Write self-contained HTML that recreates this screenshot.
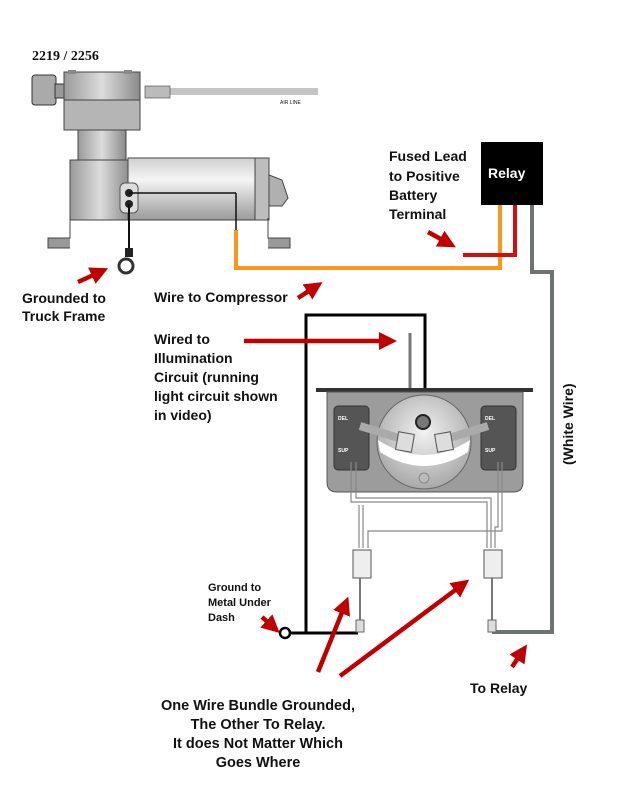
<!DOCTYPE html>
<html><head><meta charset="utf-8"><style>
body{margin:0;background:#fff;width:641px;height:800px;overflow:hidden}
svg{display:block}
text{font-family:"Liberation Sans",Arial,sans-serif;font-weight:bold;fill:#111}
</style></head><body>
<svg width="641" height="800" viewBox="0 0 641 800">
<defs>
<linearGradient id="cyl" x1="0" y1="0" x2="0" y2="1"><stop offset="0" stop-color="#d0d0d0"/><stop offset="0.35" stop-color="#f4f4f4"/><stop offset="1" stop-color="#9a9a9a"/></linearGradient>
<linearGradient id="gv" x1="0" y1="0" x2="1" y2="0"><stop offset="0" stop-color="#9a9a9a"/><stop offset="0.5" stop-color="#dcdcdc"/><stop offset="1" stop-color="#8a8a8a"/></linearGradient>
<radialGradient id="gg" cx="0.5" cy="0.4" r="0.6"><stop offset="0" stop-color="#f2f2f2"/><stop offset="1" stop-color="#a8a8a8"/></radialGradient>
<marker id="ar" markerWidth="4" markerHeight="4" refX="2" refY="2" orient="auto" markerUnits="strokeWidth"><path d="M0,0 L4,2 L0,4 z" fill="#c00000"/></marker>
</defs>

<text x="32" y="60" style="font-family:'Liberation Serif',serif;font-size:14px">2219 / 2256</text>
<rect x="170" y="88" width="148" height="7" fill="#c4c4c4"/>
<text x="280" y="104" style="font-size:5px;font-weight:normal">AIR LINE</text>
<rect x="145" y="86" width="25" height="12" fill="#bbb" stroke="#555" stroke-width="0.7"/>
<rect x="32" y="75" width="24" height="30" rx="3" fill="#aaa" stroke="#333"/>
<rect x="55" y="84" width="10" height="14" fill="#999" stroke="#333"/>
<rect x="64" y="72" width="76" height="28" fill="url(#gv)" stroke="#444"/>
<rect x="64" y="100" width="76" height="30" fill="#b5b5b5" stroke="#444"/>
<rect x="78" y="130" width="48" height="40" fill="url(#gv)" stroke="#444"/>
<rect x="68" y="70" width="8" height="4" fill="#888"/><rect x="124" y="70" width="8" height="4" fill="#888"/>
<rect x="70" y="160" width="60" height="60" fill="url(#gv)" stroke="#444"/>
<rect x="128" y="158" width="140" height="62" fill="url(#cyl)" stroke="#444"/>
<rect x="255" y="158" width="14" height="62" fill="#bdbdbd" stroke="#444"/>
<path d="M269,175 L282,180 L288,198 L282,206 L269,206 z" fill="#b0b0b0" stroke="#444"/>
<path d="M70,220 L70,238 L48,238 L48,248 L70,248" fill="#999" stroke="#444"/>
<path d="M268,218 L268,238 L290,238 L290,248 L268,248" fill="#999" stroke="#444"/>
<rect x="120" y="183" width="18" height="30" rx="5" fill="#ddd" stroke="#555"/>
<circle cx="129" cy="193" r="4" fill="#222"/><circle cx="129" cy="204" r="4" fill="#222"/>
<line x1="129" y1="193" x2="236" y2="193" stroke="#111" stroke-width="1.5"/>
<line x1="236" y1="193" x2="236" y2="230" stroke="#111" stroke-width="1.5"/>
<line x1="129" y1="204" x2="129" y2="250" stroke="#111" stroke-width="2"/>
<rect x="125" y="248" width="8" height="9" fill="#222"/>
<circle cx="126" cy="266" r="7" fill="none" stroke="#333" stroke-width="3"/>
<polyline points="236,230 236,268 500,268 500,205" fill="none" stroke="#f5981e" stroke-width="4"/>
<polyline points="515,205 515,255 463,255" fill="none" stroke="#d01010" stroke-width="4"/>
<polyline points="532,205 532,272 552,272 552,632 492,632" fill="none" stroke="#6f7272" stroke-width="4"/>
<rect x="481" y="142" width="62" height="63" fill="#000"/>
<text x="488" y="178" style="font-size:14px;fill:#fff">Relay</text>

<polyline points="306,633 306,315 425,315 425,415" fill="none" stroke="#000" stroke-width="3"/>
<line x1="410" y1="333" x2="410" y2="418" stroke="#777" stroke-width="3"/>
<line x1="306" y1="633" x2="358" y2="633" stroke="#000" stroke-width="3"/>
<circle cx="285" cy="633" r="5" fill="#fff" stroke="#000" stroke-width="2.5"/>
<line x1="290" y1="633" x2="306" y2="633" stroke="#000" stroke-width="3"/>
<rect x="316" y="388" width="217" height="4" fill="#333"/>
<path d="M327,392 H523 V482 Q523,492 513,492 H337 Q327,492 327,482 z" fill="#9c9c9c" stroke="#555"/>
<rect x="334" y="406" width="35" height="64" rx="4" fill="#555" stroke="#333"/>
<rect x="481" y="406" width="35" height="64" rx="4" fill="#555" stroke="#333"/>
<text x="338" y="420" style="font-size:5px;fill:#fff">DEL</text><text x="338" y="452" style="font-size:5px;fill:#fff">SUP</text>
<text x="485" y="420" style="font-size:5px;fill:#fff">DEL</text><text x="485" y="452" style="font-size:5px;fill:#fff">SUP</text>
<circle cx="424" cy="442" r="47" fill="url(#gg)" stroke="#666"/>
<path d="M378,440 Q424,470 470,440 L468,452 Q424,480 380,452 z" fill="#fff"/>
<circle cx="423" cy="422" r="7" fill="#777" stroke="#222" stroke-width="2"/>
<line x1="360" y1="426" x2="405" y2="440" stroke="#aaa" stroke-width="8"/>
<line x1="488" y1="426" x2="443" y2="440" stroke="#aaa" stroke-width="8"/>
<rect x="397" y="433" width="16" height="18" fill="#ddd" stroke="#555" transform="rotate(10 405 442)"/>
<rect x="436" y="433" width="16" height="18" fill="#ddd" stroke="#555" transform="rotate(-10 444 442)"/>
<circle cx="424" cy="478" r="5" fill="#bbb" stroke="#888"/>
<g fill="none" stroke="#888" stroke-width="1.2">
<polyline points="351,462 351,502 487,502 487,548"/>
<polyline points="356,462 356,498 491,498 491,548"/>
<polyline points="359,505 359,548"/><polyline points="363,505 363,548"/>
<polyline points="502,462 502,531 368,531 368,548"/>
<polyline points="498,462 498,527 495,527 495,548"/>
</g>
<rect x="353" y="550" width="18" height="28" fill="#eee" stroke="#555"/>
<rect x="484" y="550" width="18" height="28" fill="#eee" stroke="#555"/>
<line x1="360" y1="578" x2="360" y2="620" stroke="#777" stroke-width="2"/>
<line x1="492" y1="578" x2="492" y2="620" stroke="#777" stroke-width="2"/>
<rect x="356" y="620" width="8" height="12" fill="#ddd" stroke="#666"/>
<rect x="488" y="620" width="8" height="12" fill="#ddd" stroke="#666"/>

<g stroke="#c00000" stroke-width="4.5" fill="none" marker-end="url(#ar)">
<line x1="78" y1="282" x2="100" y2="272"/>
<line x1="298" y1="298" x2="315" y2="287"/>
<line x1="428" y1="232" x2="448" y2="243"/>
<line x1="244" y1="341" x2="388" y2="341"/>
<line x1="262" y1="617" x2="273" y2="627"/>
<line x1="318" y1="672" x2="345" y2="605"/>
<line x1="340" y1="676" x2="462" y2="585"/>
<line x1="512" y1="667" x2="522" y2="652"/>
</g>

<g style="font-size:14px">
<text x="22" y="303">Grounded to</text><text x="22" y="321">Truck Frame</text>
<text x="154" y="302">Wire to Compressor</text>
<text x="389" y="161">Fused Lead</text><text x="389" y="181">to Positive</text>
<text x="389" y="200">Battery</text><text x="389" y="219">Terminal</text>
<text x="154" y="344">Wired to</text><text x="154" y="363">Illumination</text>
<text x="154" y="382">Circuit (running</text><text x="154" y="401">light circuit shown</text>
<text x="154" y="420">in video)</text>
<text x="470" y="693">To Relay</text>
<text transform="translate(573,465) rotate(-90)" x="0" y="0">(White Wire)</text>
</g>
<g style="font-size:14.5px">
<text text-anchor="middle" x="258" y="710">One Wire Bundle Grounded,</text>
<text text-anchor="middle" x="258" y="729">The Other To Relay.</text>
<text text-anchor="middle" x="258" y="748">It does Not Matter Which</text>
<text text-anchor="middle" x="258" y="767">Goes Where</text>
</g>
<g style="font-size:11px">
<text x="208" y="591">Ground to</text><text x="208" y="606">Metal Under</text><text x="208" y="621">Dash</text>
</g>
</svg>
</body></html>
